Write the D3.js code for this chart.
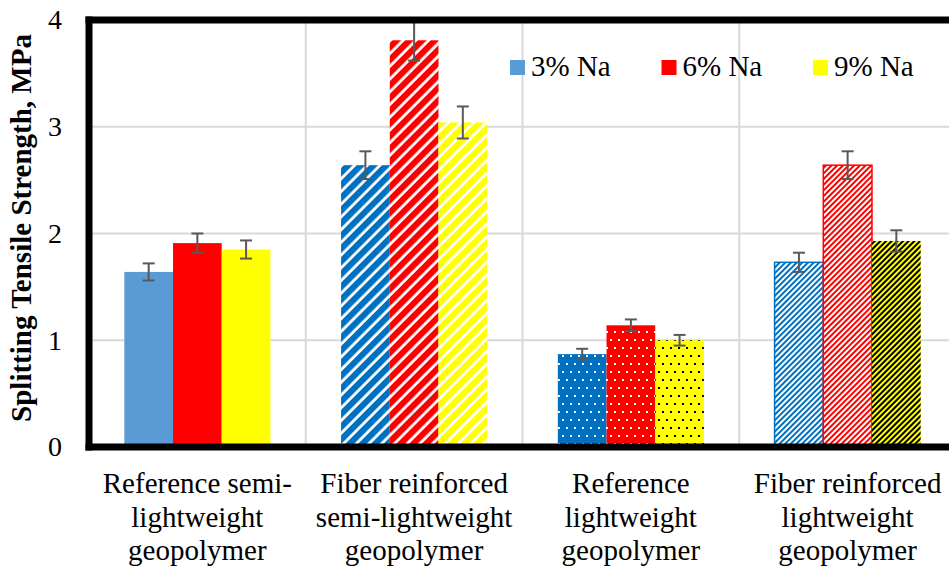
<!DOCTYPE html>
<html>
<head>
<meta charset="utf-8">
<script src="https://cdn.jsdelivr.net/npm/d3@7"></script>
<style>
  body { margin: 0; background: #fff; }
  svg { display: block; }
</style>
</head>
<body>
<div id="vis"></div>
<script>
var width = 949;
var height = 567;

// data
var categories = ["refSemi", "fiberSemi", "refLight", "fiberLight"];
var categoryLabels = [
  ["Reference semi-", "lightweight", "geopolymer"],
  ["Fiber reinforced", "semi-lightweight", "geopolymer"],
  ["Reference", "lightweight", "geopolymer"],
  ["Fiber reinforced", "lightweight", "geopolymer"]
];
var series = ["3% Na", "6% Na", "9% Na"];
var na3 = [1.64, 2.64, 0.87, 1.73];
var na6 = [1.91, 3.81, 1.14, 2.64];
var na9 = [1.85, 3.04, 1.00, 1.93];
var err3 = [0.08, 0.13, 0.05, 0.09];
var err6 = [0.09, 0.19, 0.055, 0.13];
var err9 = [0.085, 0.15, 0.05, 0.10];
var yTicks = [0, 1, 2, 3, 4];

var values = [na3, na6, na9];
var errors = [err3, err6, err9];

var font = "'Liberation Serif', 'Times New Roman', serif";

var svg = d3.select("#vis")
  .append("svg")
  .attr("width", width)
  .attr("height", height)
  .style("background-color", "white");

var defs = svg.append("defs");

// wide / fine diagonal stripes
function stripes(id, color, bg, period, band) {
  var p = defs.append("pattern")
    .attr("id", id)
    .attr("patternUnits", "userSpaceOnUse")
    .attr("width", period)
    .attr("height", period)
    .attr("patternTransform", "rotate(45)");
  p.append("rect").attr("width", period).attr("height", period).attr("fill", bg);
  p.append("rect").attr("width", band).attr("height", period).attr("fill", color);
}

// small staggered dots
function dots(id, bg, dot) {
  var p = defs.append("pattern")
    .attr("id", id)
    .attr("patternUnits", "userSpaceOnUse")
    .attr("width", 8)
    .attr("height", 16);
  p.append("rect").attr("width", 8).attr("height", 16).attr("fill", bg);
  p.append("rect").attr("x", 2).attr("y", 3).attr("width", 2).attr("height", 2).attr("fill", dot);
  p.append("rect").attr("x", 6).attr("y", 11).attr("width", 2).attr("height", 2).attr("fill", dot);
}

stripes("wBlue", "#0070C0", "white", 9, 6.2);
stripes("wRed", "#FF0000", "white", 9, 6.2);
stripes("wYellow", "#FFFF00", "white", 9, 6.2);
dots("dBlue", "#0070C0", "white");
dots("dRed", "#FF0000", "white");
dots("dYellow", "#FFFF00", "black");
stripes("fBlue", "#0070C0", "white", 4, 2);
stripes("fRed", "#FF0000", "white", 4, 2);
stripes("fYellow", "black", "#FFFF00", 4, 2);

var fills = [
  ["#5B9BD5", "#FF0000", "#FFFF00"],
  ["url(#wBlue)", "url(#wRed)", "url(#wYellow)"],
  ["url(#dBlue)", "url(#dRed)", "url(#dYellow)"],
  ["url(#fBlue)", "url(#fRed)", "url(#fYellow)"]
];
var strokes = [
  ["none", "none", "none"],
  ["none", "none", "none"],
  ["none", "none", "none"],
  ["#0070C0", "#FF0000", "none"]
];
var legendColors = ["#5B9BD5", "#FF0000", "#FFFF00"];

var plotLeft = 89, plotRight = 956, plotTop = 20, plotBottom = 447;

var x = d3.scaleBand()
  .domain(categories)
  .range([plotLeft, plotRight])
  .paddingInner(0.326)
  .paddingOuter(0.163);

var xs = d3.scaleBand()
  .domain(series)
  .range([0, x.bandwidth()]);

var y = d3.scaleLinear()
  .domain([0, 4])
  .range([plotBottom, plotTop]);

// gridlines
svg.append("g")
  .selectAll("line")
  .data(yTicks.filter(d => d > 0 && d < 4))
  .join("line")
  .attr("x1", plotLeft).attr("x2", width)
  .attr("y1", d => y(d)).attr("y2", d => y(d))
  .attr("stroke", "#d9d9d9")
  .attr("stroke-width", 2);

svg.append("g")
  .selectAll("line")
  .data(categories.slice(1))
  .join("line")
  .attr("x1", d => x(d) - x.step() * x.paddingInner() / 2)
  .attr("x2", d => x(d) - x.step() * x.paddingInner() / 2)
  .attr("y1", plotTop).attr("y2", plotBottom)
  .attr("stroke", "#d9d9d9")
  .attr("stroke-width", 2);

// bars
var rows = [];
categories.forEach((c, i) => {
  series.forEach((s, j) => {
    rows.push({cat: c, ci: i, ser: s, sj: j, v: values[j][i], e: errors[j][i]});
  });
});

svg.append("g")
  .selectAll("rect")
  .data(rows)
  .join("rect")
  .attr("x", d => x(d.cat) + xs(d.ser))
  .attr("y", d => y(d.v))
  .attr("width", xs.bandwidth())
  .attr("height", d => y(0) - y(d.v))
  .attr("fill", d => fills[d.ci][d.sj])
  .attr("stroke", d => strokes[d.ci][d.sj])
  .attr("stroke-width", 1.5);

// error bars
var eb = svg.append("g")
  .attr("stroke", "#595959")
  .attr("stroke-width", 2)
  .selectAll("g")
  .data(rows)
  .join("g")
  .attr("transform", d => `translate(${x(d.cat) + xs(d.ser) + xs.bandwidth() / 2},0)`);

eb.append("line")
  .attr("y1", d => y(d.v - d.e)).attr("y2", d => y(d.v + d.e));
eb.append("line")
  .attr("x1", -6).attr("x2", 6)
  .attr("y1", d => y(d.v + d.e)).attr("y2", d => y(d.v + d.e));
eb.append("line")
  .attr("x1", -6).attr("x2", 6)
  .attr("y1", d => y(d.v - d.e)).attr("y2", d => y(d.v - d.e));

// frame
var frame = svg.append("g").attr("stroke", "black").attr("stroke-width", 7);
frame.append("line").attr("x1", plotLeft).attr("x2", plotLeft).attr("y1", plotTop - 3.5).attr("y2", plotBottom + 3.5);
frame.append("line").attr("x1", plotLeft - 3.5).attr("x2", width).attr("y1", plotTop).attr("y2", plotTop);
frame.append("line").attr("x1", plotLeft - 3.5).attr("x2", width).attr("y1", plotBottom).attr("y2", plotBottom);

// y axis labels
var yAxis = svg.append("g")
  .attr("transform", `translate(${plotLeft},0)`)
  .call(d3.axisLeft(y).tickValues(yTicks).tickFormat(d3.format("d")).tickSize(0).tickPadding(27));
yAxis.select(".domain").remove();
yAxis.selectAll("text")
  .style("font-family", font)
  .style("font-size", "28px")
  .style("fill", "black");

svg.append("text")
  .attr("transform", "translate(31,228) rotate(-90)")
  .attr("text-anchor", "middle")
  .style("font-family", font)
  .style("font-size", "29px")
  .style("font-weight", "bold")
  .text("Splitting Tensile Strength, MPa");

// category labels
var catText = svg.append("g")
  .selectAll("text")
  .data(categories)
  .join("text")
  .attr("x", d => x(d) + x.bandwidth() / 2)
  .attr("y", 493)
  .attr("text-anchor", "middle")
  .style("font-family", font)
  .style("font-size", "29px");

catText.selectAll("tspan")
  .data((d, i) => categoryLabels[i])
  .join("tspan")
  .attr("x", function() { return d3.select(this.parentNode).attr("x"); })
  .attr("dy", (d, i) => i === 0 ? 0 : 33.5)
  .text(d => d);

// legend
var legend = svg.append("g")
  .selectAll("g")
  .data(series)
  .join("g")
  .attr("transform", (d, i) => `translate(${510 + i * 151.5},60)`);

legend.append("rect")
  .attr("width", 15)
  .attr("height", 15)
  .attr("fill", (d, i) => legendColors[i]);

legend.append("text")
  .attr("x", 21)
  .attr("y", 16)
  .style("font-family", font)
  .style("font-size", "29px")
  .text(d => d);
</script>
</body>
</html>
